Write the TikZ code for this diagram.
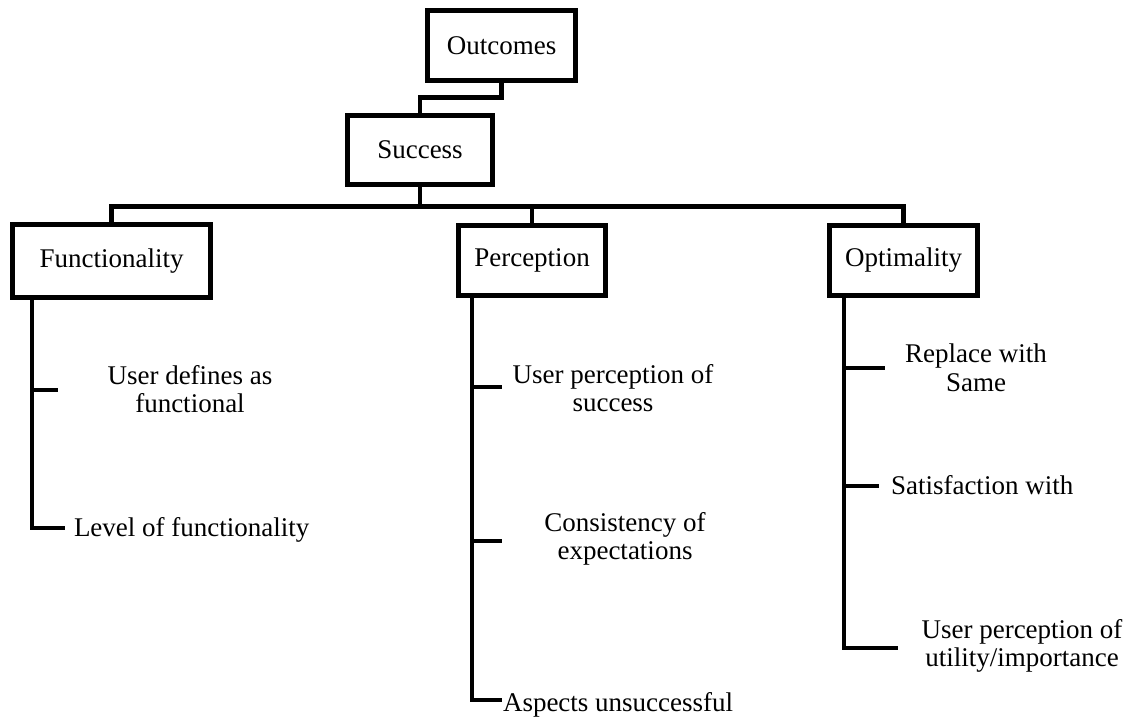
\documentclass[tikz,border=0pt]{standalone}
\usepackage{fontspec}
\setmainfont{Liberation Serif}
\begin{document}
\begin{tikzpicture}[x=1pt,y=-1pt,
  box/.style={draw, line width=4.6pt, rectangle, outer sep=0pt, inner sep=0pt,
              font=\fontsize{27}{28.5}\selectfont},
  leaf/.style={inner sep=0pt, outer sep=0pt, align=center,
              font=\fontsize{27}{28.5}\selectfont},
  wire/.style={line width=4.6pt}]
\useasboundingbox (0,0) rectangle (1134,721);

% category boxes
\node[box, minimum width=148pt, minimum height=70pt] (out) at (501.5,45.5) {Outcomes};
\node[box, minimum width=145pt, minimum height=69pt] (suc) at (420,150) {Success};
\node[box, minimum width=198pt, minimum height=73pt] (fun) at (111.5,261) {Functionality};
\node[box, minimum width=147pt, minimum height=70pt] (per) at (532,260.5) {Perception};
\node[box, minimum width=148pt, minimum height=70pt] (opt) at (903.5,260.5) {Optimality};

% leaf labels
\node[leaf] (udf) at (190,389) {User defines as\\functional};
\node[leaf, anchor=base west] (lof) at (74,536) {Level of functionality};
\node[leaf] (upos) at (613,388) {User perception of\\success};
\node[leaf] (coe) at (625,539) {Consistency of\\expectations};
\node[leaf, anchor=base west] (asp) at (503,711) {Aspects unsuccessful};
\node[leaf] (rws) at (976,368) {Replace with\\Same};
\node[leaf, anchor=base west] (sat) at (891,494) {Satisfaction with};
\node[leaf] (upu) at (1022,646) {User perception of\\utility/importance};

% top of the tree
\draw[wire] (out.south) -- ++(0,17) -| (suc.north);
\draw[wire] (suc.south) -- ++(0,22) coordinate (busc);
\draw[wire] (fun.north) |- (busc) -| (opt.north);
\draw[wire] (per.north) -- (per.north |- busc);

% stems below each category and their tick ends
\coordinate (fs) at ([xshift=19.5pt]fun.south west);
\coordinate (f1) at (58,390);
\coordinate (f2) at (65,528);
\draw[wire] (fs) |- (f2);
\draw[wire] (fs |- f1) -- (f1);

\coordinate (ps) at ([xshift=13.5pt]per.south west);
\coordinate (p1) at (502,387);
\coordinate (p2) at (502,541);
\coordinate (p3) at (502,700);
\draw[wire] (ps) |- (p3);
\draw[wire] (ps |- p1) -- (p1);
\draw[wire] (ps |- p2) -- (p2);

\coordinate (os) at ([xshift=14.5pt]opt.south west);
\coordinate (o1) at (885,368);
\coordinate (o2) at (879,486);
\coordinate (o3) at (898,648);
\draw[wire] (os) |- (o3);
\draw[wire] (os |- o1) -- (o1);
\draw[wire] (os |- o2) -- (o2);
\end{tikzpicture}
\end{document}
